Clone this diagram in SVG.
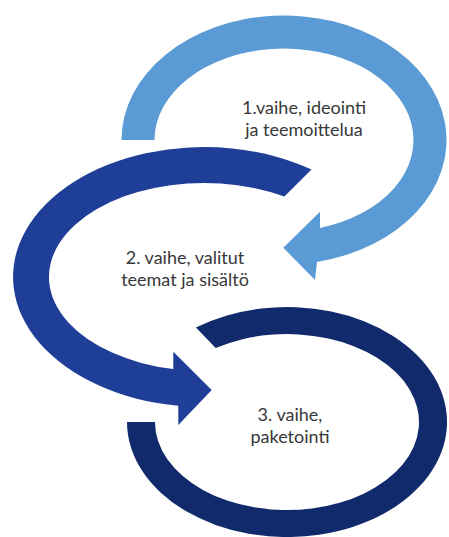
<svg xmlns="http://www.w3.org/2000/svg" width="449" height="537" viewBox="0 0 449 537">
  <style>
    .lbl { font-family: Lato, "Liberation Sans", sans-serif; font-size: 18px; fill: #383838; text-anchor: middle; }
    .s1 { fill: #5b9bd5; }
    .s2 { fill: #1f3e97; }
    .s3 { fill: #112a6c; }
  </style>
  <rect width="449" height="537" fill="#ffffff"/>
  <g id="stage3">
    <path class="s3" d="M 127 422 A 160 115 0 1 0 195.9 327.5 L 215.7 348 A 132 88 0 1 1 155 422 Z"/>
    <text class="lbl" x="290" y="421">3. vaihe,</text>
    <text class="lbl" x="290" y="443">paketointi</text>
  </g>
  <g id="stage2">
    <path class="s2" d="M 311.5 169.5 A 191 130 0 1 0 178.3 405.8 L 178.3 425 L 211.7 390 L 173.3 351.7 L 173.3 369.1 A 155 94 0 1 1 284.4 196.6 Z"/>
    <text class="lbl" x="185" y="264">2. vaihe, valitut</text>
    <text class="lbl" x="185" y="286">teemat ja sisältö</text>
  </g>
  <g id="stage1">
    <path class="s1" d="M 121.5 140 A 162.5 124.5 0 1 1 317 261.9 L 315 280 L 283.3 247.7 L 320 211.7 L 320 227.9 A 129.5 91.5 0 1 0 154.5 140 Z"/>
    <text class="lbl" x="304" y="114">1.vaihe, ideointi</text>
    <text class="lbl" x="304" y="136">ja teemoittelua</text>
  </g>
  <g id="connectors"></g>
</svg>
